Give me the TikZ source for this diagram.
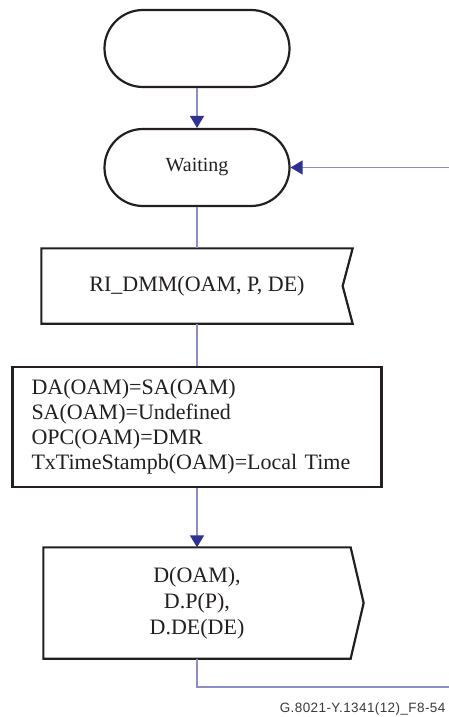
\documentclass[tikz,border=0pt]{standalone}
\usepackage{fontspec}
\setmainfont{Liberation Serif}
\newfontfamily\capfont[LetterSpace=3]{Liberation Sans}
\usetikzlibrary{arrows.meta}
\definecolor{cink}{HTML}{231F20}
\definecolor{cline}{HTML}{8A90C4}
\definecolor{ctip}{HTML}{2E3192}
\definecolor{ccap}{HTML}{3A3A3A}
\tikzset{
  every picture/.style={line width=1.3pt},
  terminal/.style={draw=cink, line width=2.2pt, rounded corners=38.5pt, minimum width=185pt, minimum height=77pt, font=\fontsize{20}{24}\selectfont, text=cink},
  sigbox/.style={minimum width=310pt, minimum height=74pt, inner sep=0pt, align=center, font=\fontsize{22}{26}\selectfont, text=cink},
  taskbox/.style={draw=cink, line width=2.2pt, minimum width=369pt, minimum height=120pt, inner xsep=19pt, text width=331pt, align=left, font=\fontsize{22}{25}\selectfont, text=cink},
  border/.style={draw=cink, line width=2.2pt, line join=miter},
  flow/.style={draw=cline, line width=1.3pt},
  arrow/.style={flow, -{Triangle[length=12pt, width=14pt, color=ctip]}},
  caption/.style={font=\capfont\fontsize{13.5}{15}\selectfont, text=ccap, anchor=base east, inner sep=0pt},
}
\begin{document}
\begin{tikzpicture}[x=1pt, y=-1pt]
  \useasboundingbox (0,0) rectangle (448,717);
  % states
  \node[terminal] (start) at (197,48.5) {};
  \node[terminal] (wait) at (197,167.5) {Waiting};
  % input signal
  \node[sigbox] (rx) at (197,286) {RI\_DMM(OAM, P, DE)};
  \draw[border] (rx.north west) -- (rx.north east) -- ([xshift=-10pt]rx.east) -- (rx.south east) -- (rx.south west) -- cycle;
  % task
  \node[taskbox] (set) at (197,427) {DA(OAM)=SA(OAM)\\SA(OAM)=Undefined\\OPC(OAM)=DMR\\TxTimeStampb(OAM)=Local Time};
  % output signal
  \node[sigbox, minimum width=306pt, minimum height=110pt] (tx) at (197,603) {D(OAM),\\D.P(P),\\D.DE(DE)};
  \draw[border] (tx.north west) -- (tx.north east) -- ([xshift=13pt]tx.east) -- (tx.south east) -- (tx.south west) -- cycle;
  % flow
  \coordinate (ret) at (452,687);
  \draw[arrow] (start) -- (wait);
  \draw[flow] (wait) -- (rx);
  \draw[flow] (rx) -- (set);
  \draw[arrow] (set) -- (tx);
  \draw[arrow] (tx.south) |- (ret) |- (wait.east);
  \node[caption] (fig) at (446,712) {G.8021-Y.1341(12)\_F8-54};
\end{tikzpicture}
\end{document}
